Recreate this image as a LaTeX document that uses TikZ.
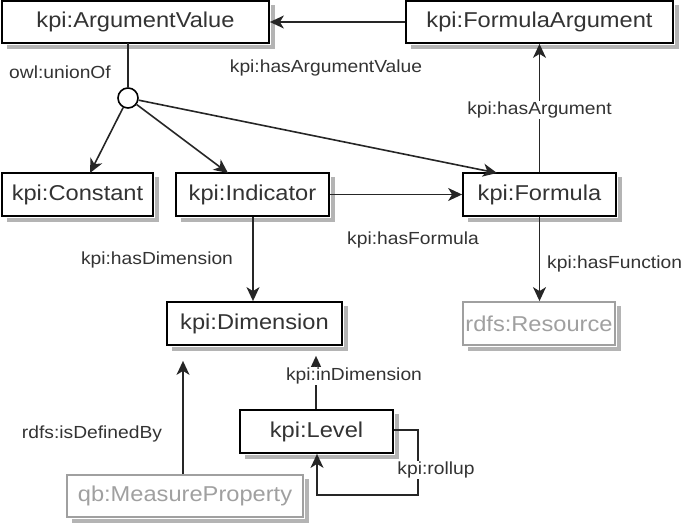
\documentclass[tikz,border=0pt]{standalone}
\usepackage{fontspec}
\setmainfont{Liberation Sans}[FakeStretch=1.1]
\usetikzlibrary{arrows.meta}
\definecolor{txt}{HTML}{333333}
\definecolor{lightgr}{HTML}{A0A0A0}
\definecolor{shad}{HTML}{B4B4B4}
\tikzset{
  cls/.style={draw=black, line width=1.8pt, fill=white, text=txt, font=\fontsize{21.5}{24}\selectfont,
    minimum height=42pt, inner sep=0pt},
  ext/.style={cls, draw=lightgr, text=lightgr},
  lbl/.style={text=txt, font=\fontsize{17.5}{20}\selectfont, inner sep=1pt},
  lblw/.style={lbl, fill=white},
  conn/.style={draw=black!85, line width=1.6pt},
  arr/.style={conn, -{Stealth[length=14pt,width=13pt,inset=4pt]}},
  shadowbox/.style={fill=shad, draw=none}
}
\begin{document}
\begin{tikzpicture}[x=1pt,y=-1pt]
\useasboundingbox (0,0) rectangle (685,525);
% classes
\node[cls, minimum width=267pt] (av) at (135.5,22) {kpi:ArgumentValue};
\node[cls, minimum width=267pt] (fa) at (539.5,22) {kpi:FormulaArgument};
\node[cls, minimum width=151pt, minimum height=43pt] (con) at (77.5,194.5) {kpi:Constant};
\node[cls, minimum width=153pt, minimum height=43pt] (ind) at (252.5,194.5) {kpi:Indicator};
\node[cls, minimum width=153pt, minimum height=43pt] (form) at (539.5,194.5) {kpi:Formula};
\node[cls, minimum width=175pt, minimum height=43pt] (dim) at (254.5,323.5) {kpi:Dimension};
\node[ext, minimum width=152pt, minimum height=43pt] (res) at (539,323.5) {rdfs:Resource};
\node[cls, minimum width=153pt, minimum height=43pt] (lev) at (316.5,431.5) {kpi:Level};
\node[ext, minimum width=236pt] (mp) at (185,496) {qb:MeasureProperty};
% shadows as L-shaped bands outside the boxes
\foreach \n in {av,fa,con,ind,form,dim,res,lev,mp}{
  \fill[shadowbox] ([shift={(1,1)}]\n.south west -| \n.south west) ++(5,0) rectangle ([shift={(5,5)}]\n.south east);
  \fill[shadowbox] ([shift={(1,5)}]\n.north east) rectangle ([shift={(5,5)}]\n.south east);
}
% union circle
\node[circle, draw=black, line width=1.6pt, fill=white, minimum size=20pt, inner sep=0pt] (u) at (128,98) {};
\coordinate (avb) at (128,43);
\coordinate (conT) at (90,173);
\coordinate (indT) at (228,173);
\coordinate (formT) at (497,173);
% connectors
\draw[arr] (fa.west) -- (av.east);
\node[lbl] (lhav) at (326,68) {kpi:hasArgumentValue};
\draw[conn] (avb) -- (u.north);
\node[lbl] (lunion) at (60,72) {owl:unionOf};
\draw[arr] (u) -- (conT);
\draw[arr] (u) -- (indT);
\draw[arr] (u) -- (formT);
\draw[arr] (form.north) -- (fa.south);
\node[lblw] (lha) at (539.5,110) {kpi:hasArgument};
\draw[arr] (ind.east) -- (form.west);
\node[lbl] (lhf) at (413,240) {kpi:hasFormula};
\draw[arr] (ind.south -| 253,0) -- (dim.north -| 253,0);
\node[lbl] (lhd) at (157,260) {kpi:hasDimension};
\draw[arr] (form.south) -- (res.north -| form.south);
\node[lbl, anchor=west] (lfn) at (546,264) {kpi:hasFunction};
\draw[arr, shorten >=10pt] (lev.north -| 316,0) -- (dim.south -| 316,0);
\node[lblw] (lind) at (354,376) {kpi:inDimension};
\draw[arr, shorten >=15pt] (mp.north -| 183,0) -- (dim.south -| 183,0);
\node[lbl] (ldef) at (92,434) {rdfs:isDefinedBy};
\coordinate (r1) at (418,430);
\coordinate (r2) at (418,495);
\coordinate (r3) at (317,495);
\draw[arr] (lev.east |- r1) -- (r1) -- (r2) -- (r3) -- (lev.south -| r3);
\node[lblw] (lru) at (436,470) {kpi:rollup};
\end{tikzpicture}
\end{document}
